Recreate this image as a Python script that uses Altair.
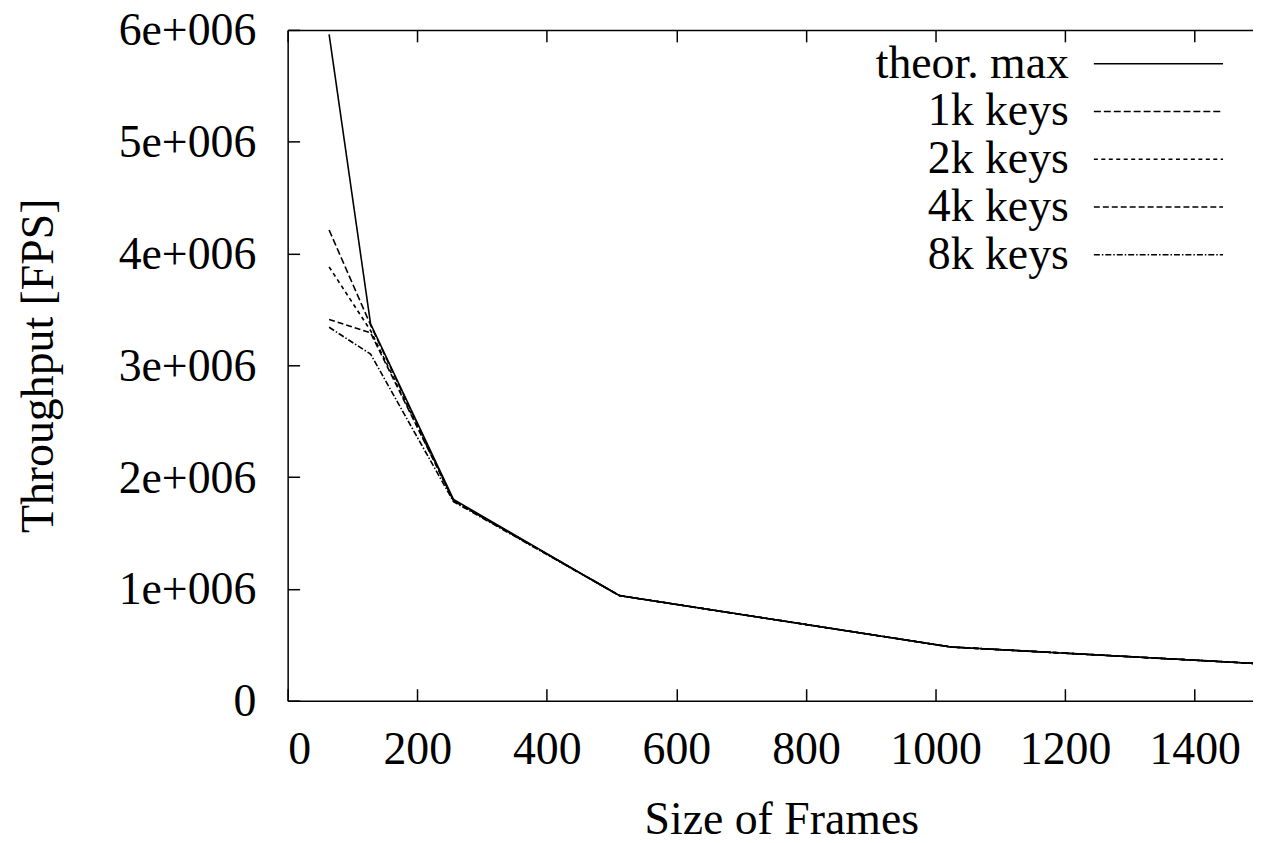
import altair as alt
import pandas as pd

# Frame sizes (bytes) and throughput (frames per second)
sizes = [64, 128, 256, 512, 1024, 1518]
series_names = ["theor. max", "1k keys", "2k keys", "4k keys", "8k keys"]
theor_max = [5.96e6, 3.37e6, 1.80e6, 0.94e6, 0.48e6, 0.325e6]
keys_1k = [4.21e6, 3.36e6, 1.79e6, 0.94e6, 0.48e6, 0.325e6]
keys_2k = [3.88e6, 3.31e6, 1.79e6, 0.94e6, 0.48e6, 0.325e6]
keys_4k = [3.41e6, 3.29e6, 1.79e6, 0.94e6, 0.48e6, 0.325e6]
keys_8k = [3.34e6, 3.10e6, 1.78e6, 0.94e6, 0.48e6, 0.325e6]

x_ticks = [0, 200, 400, 600, 800, 1000, 1200, 1400]
y_ticks = [0, 1e6, 2e6, 3e6, 4e6, 5e6, 6e6]

rows = []
for name, vals in zip(series_names, [theor_max, keys_1k, keys_2k, keys_4k, keys_8k]):
    for s, v in zip(sizes, vals):
        rows.append({"size": s, "fps": v, "series": name})
df = pd.DataFrame(rows)

FONT = "Liberation Serif"
FS = 46

xscale = alt.Scale(domain=[0, 1490], nice=False, zero=False)
yscale = alt.Scale(domain=[0, 6e6], nice=False)

dash_range = [[1, 0], [7, 3], [4, 3.5], [6, 3], [6, 2, 1.5, 2]]

base = alt.Chart(df)

lines = base.mark_line(clip=True, color="black", strokeWidth=1.6).encode(
    x=alt.X("size:Q", scale=xscale,
            axis=alt.Axis(orient="bottom", values=x_ticks, format="d", ticks=False, tickSize=0,
                          domain=True, domainColor="black", domainWidth=1.5,
                          labelFont=FONT, labelFontSize=FS, labelColor="black",
                          labelPadding=63, labelBaseline="alphabetic",
                          title="Size of Frames", titleFont=FONT, titleFontSize=FS,
                          titleFontWeight="normal", titleColor="black",
                          titleX=496, titleY=133, titleBaseline="alphabetic",
                          titleAlign="center", grid=False)),
    y=alt.Y("fps:Q", scale=yscale,
            axis=alt.Axis(orient="left", values=y_ticks, ticks=False, tickSize=0,
                          domain=True, domainColor="black", domainWidth=1.5,
                          labelFont=FONT, labelFontSize=FS, labelColor="black",
                          labelPadding=32, labelBaseline="alphabetic", labelOffset=15,
                          labelExpr="datum.value == 0 ? '0' : format(datum.value/1000000, 'd') + 'e+006'",
                          title="Throughput [FPS]", titleFont=FONT, titleFontSize=FS,
                          titleFontWeight="normal", titleColor="black",
                          titleX=-236, titleY=337, titleAngle=270,
                          titleBaseline="alphabetic", titleAlign="center", grid=False)),
    strokeDash=alt.StrokeDash("series:N",
                              scale=alt.Scale(domain=series_names, range=dash_range),
                              sort=series_names,
                              legend=alt.Legend(orient="none", legendX=852, legendY=11,
                                                title=None, symbolType="M-2.95,0H2.95",
                                                symbolSize=1936, symbolStrokeWidth=1.5,
                                                symbolStrokeColor="black",
                                                symbolFillColor="transparent",
                                                labelFont=FONT, labelFontSize=FS,
                                                labelColor="black", labelAlign="right",
                                                labelOffset={"expr": "-113"}, labelLimit=500,
                                                rowPadding=2, padding=0,
                                                symbolOffset=0)),
)

# inward tick marks on bottom / left
ticks_bl = base.mark_point(opacity=0).encode(
    x=alt.X("size:Q", scale=xscale,
            axis=alt.Axis(orient="bottom", values=x_ticks, tickSize={"expr": "-12"},
                          tickColor="black", tickWidth=1.5, labels=False, domain=False,
                          title=None, grid=False)),
    y=alt.Y("fps:Q", scale=yscale,
            axis=alt.Axis(orient="left", values=y_ticks, tickSize={"expr": "-12"},
                          tickColor="black", tickWidth=1.5, labels=False, domain=False,
                          title=None, grid=False)),
)

# top frame line with inward ticks
frame_top = base.mark_point(opacity=0).encode(
    x=alt.X("size:Q", scale=xscale,
            axis=alt.Axis(orient="top", values=x_ticks, tickSize={"expr": "-12"},
                          tickColor="black", tickWidth=1.5, labels=False,
                          domain=True, domainColor="black", domainWidth=1.5,
                          title=None, grid=False)),
    y=alt.Y("fps:Q", scale=yscale, axis=None),
)

chart = alt.layer(lines, ticks_bl, frame_top).resolve_axis(
    x="independent", y="independent"
).properties(
    width=970, height=674,
    autosize=alt.AutoSizeParams(type="none"),
    padding={"left": 281, "top": 20, "right": 0, "bottom": 140},
    background="white",
).configure_view(stroke=None)

chart.save("out.html", embed_options={"renderer": "svg", "actions": False})
